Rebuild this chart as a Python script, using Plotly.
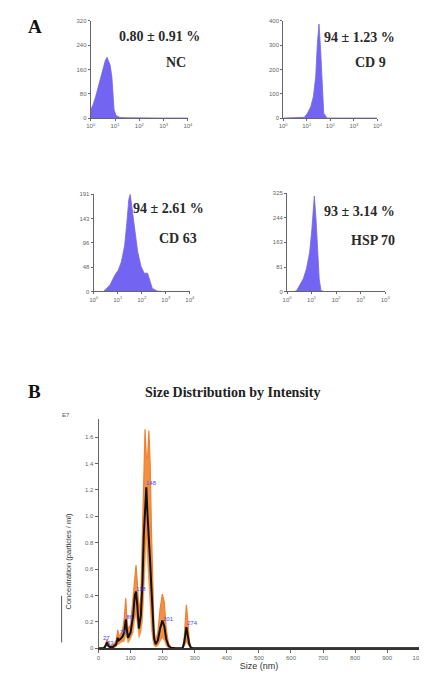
import plotly.graph_objects as go

W, H = 427, 679

# ---------------- Data: flow cytometry histograms (x in decades, y counts)
nc_x = [0.0, 0.1, 0.2, 0.3, 0.4, 0.5, 0.6, 0.67, 0.74, 0.8, 0.87, 0.92, 0.96, 1.04, 1.2, 1.5, 2.0, 3.0, 4.0]
nc_y = [27, 45, 70, 100, 135, 165, 190, 200, 188, 174, 135, 70, 27, 8, 2, 1, 0, 0, 0]

cd9_x = [0.0, 0.8, 0.9, 1.03, 1.17, 1.28, 1.38, 1.45, 1.52, 1.59, 1.66, 1.72, 1.86, 2.5, 4.0]
cd9_y = [0, 0, 3, 20, 47, 88, 170, 305, 387, 278, 102, 20, 0, 0, 0]

cd63_x = [0.0, 0.4, 0.47, 0.68, 0.88, 1.02, 1.15, 1.29, 1.38, 1.46, 1.52, 1.6, 1.69, 1.83, 1.97, 2.1, 2.24, 2.31, 2.44, 2.64, 2.85, 4.0]
cd63_y = [0, 0, 3, 13, 32, 42, 58, 91, 136, 181, 191, 162, 123, 78, 49, 36, 36, 26, 6, 1, 0, 0]

hsp_x = [0.0, 0.3, 0.39, 0.52, 0.66, 0.79, 0.92, 1.01, 1.08, 1.11, 1.18, 1.25, 1.31, 1.38, 1.51, 4.0]
hsp_y = [0, 0, 3, 20, 42, 75, 130, 206, 283, 316, 239, 130, 42, 3, 0, 0]

decade_ticks = [0, 1, 2, 3, 4]
decade_labels = ["10<sup>0</sup>", "10<sup>1</sup>", "10<sup>2</sup>", "10<sup>3</sup>", "10<sup>4</sup>"]

nc_yticks = [0, 80, 160, 240, 320]
cd9_yticks = [0, 100, 200, 300, 400]
cd63_yticks = [0, 48, 96, 143, 191]
hsp_yticks = [0, 81, 163, 244, 325]

pct_labels = ["0.80 ± 0.91 %", "94 ± 1.23 %", "94 ± 2.61 %", "93 ± 3.14 %"]
marker_labels = ["NC", "CD 9", "CD 63", "HSP 70"]

# ---------------- Data: NTA size distribution (nm, E7 particles/ml)
size_nm = [0, 15, 20, 24, 27, 30, 35, 45, 55, 60, 63, 68, 75, 80, 85, 88, 92, 100, 108, 113, 117, 121, 126,
           132, 137, 141, 145, 149, 153, 157, 161, 165, 169, 173, 178, 185, 192, 199, 205, 211, 218, 225,
           240, 262, 267, 271, 274, 278, 283, 288, 295, 1000]
conc_mean = [0, 0, 0.01, 0.04, 0.045, 0.02, 0.01, 0.01, 0.03, 0.08, 0.06, 0.07, 0.09, 0.12, 0.22, 0.15, 0.08,
             0.12, 0.25, 0.40, 0.43, 0.32, 0.15, 0.25, 0.50, 0.85, 1.10, 1.22, 1.0, 0.85, 0.65, 0.45, 0.22,
             0.08, 0.03, 0.06, 0.15, 0.21, 0.17, 0.07, 0.02, 0.005, 0, 0, 0.04, 0.12, 0.16, 0.10, 0.03, 0.005, 0, 0]
conc_upper = [0, 0, 0.02, 0.06, 0.07, 0.04, 0.02, 0.02, 0.06, 0.14, 0.10, 0.10, 0.14, 0.22, 0.38, 0.25, 0.14,
              0.18, 0.40, 0.58, 0.63, 0.50, 0.28, 0.40, 0.90, 1.40, 1.66, 1.45, 1.45, 1.65, 1.40, 0.90, 0.45,
              0.15, 0.06, 0.12, 0.30, 0.41, 0.35, 0.15, 0.04, 0.01, 0, 0, 0.08, 0.25, 0.33, 0.22, 0.06, 0.01, 0, 0]
conc_lower = [0, 0, 0, 0.02, 0.02, 0.01, 0, 0, 0.01, 0.03, 0.03, 0.04, 0.05, 0.05, 0.10, 0.08, 0.04, 0.07,
              0.12, 0.22, 0.25, 0.18, 0.08, 0.12, 0.20, 0.40, 0.60, 0.85, 0.65, 0.45, 0.30, 0.15, 0.06, 0.02,
              0.01, 0.02, 0.05, 0.08, 0.06, 0.02, 0, 0, 0, 0, 0.01, 0.03, 0.05, 0.03, 0.01, 0, 0, 0]

peak_sizes = [27, 33, 76, 86, 118, 148, 201, 274]
peak_label_x = [24, 36, 78, 97, 132, 166, 217, 292]
peak_label_y = [0.08, 0.04, 0.12, 0.24, 0.45, 1.25, 0.22, 0.19]

size_ticks = [0, 100, 200, 300, 400, 500, 600, 700, 800, 900, 1000]
conc_ticks = [0, 0.2, 0.4, 0.6, 0.8, 1.0, 1.2, 1.4, 1.6]
conc_ticklabels = ["0", "0.2", "0.4", "0.6", "0.8", "1.0", "1.2", "1.4", "1.6"]


def xd(a, b):
    return [a / W, b / W]


def yd(top, bottom):
    return [1 - bottom / H, 1 - top / H]


def px(x):
    return x / W


def py(y):
    return 1 - y / H


HIST_COLOR = "#7464f2"
AX_COLOR = "#666666"
SERIF = "Liberation Serif, Times New Roman, serif"
SANS = "Liberation Sans, Arial, sans-serif"

fig = go.Figure()

hists = [(nc_x, nc_y), (cd9_x, cd9_y), (cd63_x, cd63_y), (hsp_x, hsp_y)]
for i, (hx, hy) in enumerate(hists, start=1):
    fig.add_trace(go.Scatter(
        x=hx, y=hy, mode="lines", fill="tozeroy",
        line=dict(color=HIST_COLOR, width=0.8), fillcolor=HIST_COLOR,
        xaxis="x" if i == 1 else f"x{i}", yaxis="y" if i == 1 else f"y{i}",
        showlegend=False, hoverinfo="skip"))

# NTA band and mean
fig.add_trace(go.Scatter(x=size_nm, y=conc_lower, mode="lines", line=dict(color="#f08a30", width=0.5),
                         xaxis="x5", yaxis="y5", showlegend=False, hoverinfo="skip"))
fig.add_trace(go.Scatter(x=size_nm, y=conc_upper, mode="lines", fill="tonexty",
                         line=dict(color="#f08030", width=1.2), fillcolor="#f39040",
                         xaxis="x5", yaxis="y5", showlegend=False, hoverinfo="skip"))
fig.add_trace(go.Scatter(x=size_nm, y=conc_mean, mode="lines", line=dict(color="#111111", width=2),
                         xaxis="x5", yaxis="y5", showlegend=False, hoverinfo="skip"))


def axis_style(size):
    return dict(showgrid=False, zeroline=False, showline=True, linecolor=AX_COLOR, linewidth=1,
                ticks="outside", ticklen=2, tickcolor=AX_COLOR, tickwidth=1,
                tickfont=dict(size=size, color="#666666", family=SANS))


panels = [
    ((80, 180), (10, 108), nc_yticks),
    ((278, 375), (10, 108), cd9_yticks),
    ((83, 182), (185, 283), cd63_yticks),
    ((282, 383), (184, 283), hsp_yticks),
]
layout_axes = {}
for i, ((xa, xb), (yt, yb), yt_vals) in enumerate(panels, start=1):
    xn = "xaxis" if i == 1 else f"xaxis{i}"
    yn = "yaxis" if i == 1 else f"yaxis{i}"
    xr = "x" if i == 1 else f"x{i}"
    yr = "y" if i == 1 else f"y{i}"
    layout_axes[xn] = dict(axis_style(6), domain=xd(xa, xb), anchor=yr, range=[0, 4],
                           tickvals=decade_ticks, ticktext=decade_labels)
    layout_axes[yn] = dict(axis_style(6), domain=yd(yt, yb), anchor=xr, range=[0, yt_vals[-1]],
                           tickvals=yt_vals, ticktext=[str(v) for v in yt_vals])

layout_axes["xaxis5"] = dict(axis_style(6), domain=xd(88, 418), anchor="y5", range=[0, 1000],
                             tickvals=size_ticks, ticklen=3, linecolor="#333333", linewidth=1.5,
                             title=dict(text="Size (nm)", font=dict(size=9, color="#333333", family=SANS),
                                        standoff=2))
layout_axes["yaxis5"] = dict(axis_style(6), domain=yd(412, 643), anchor="x5", range=[0, 1.735],
                             tickvals=conc_ticks, ticktext=conc_ticklabels, ticklen=3)

annotations = []
# panel letters
annotations.append(dict(x=px(13), y=py(16), xref="paper", yref="paper", text="<b>A</b>", showarrow=False,
                        xanchor="left", yanchor="middle", font=dict(size=19, family=SERIF, color="#111111")))
annotations.append(dict(x=px(13), y=py(384), xref="paper", yref="paper", text="<b>B</b>", showarrow=False,
                        xanchor="left", yanchor="middle", font=dict(size=19, family=SERIF, color="#111111")))

pct_pos = [(151, 26), (357, 27), (160, 199), (357, 202)]
mk_pos = [(168, 52), (368, 52), (170, 230), (370, 232)]
for t, (x0, y0) in zip(pct_labels, pct_pos):
    annotations.append(dict(x=px(x0), y=py(y0), xref="paper", yref="paper", text=f"<b>{t}</b>",
                            showarrow=False, xanchor="center", yanchor="middle",
                            font=dict(size=14, family=SERIF, color="#2a2a2a")))
for t, (x0, y0) in zip(marker_labels, mk_pos):
    annotations.append(dict(x=px(x0), y=py(y0), xref="paper", yref="paper", text=f"<b>{t}</b>",
                            showarrow=False, xanchor="center", yanchor="middle",
                            font=dict(size=14, family=SERIF, color="#2a2a2a")))

annotations.append(dict(x=px(226), y=py(385), xref="paper", yref="paper",
                        text="<b>Size Distribution by Intensity</b>", showarrow=False,
                        xanchor="center", yanchor="middle", font=dict(size=14, family=SERIF, color="#222222")))
annotations.append(dict(x=px(55), y=py(408), xref="paper", yref="paper", text="E7", showarrow=False,
                        xanchor="center", yanchor="middle", font=dict(size=6, family=SANS, color="#555555")))
annotations.append(dict(x=px(57), y=py(555), xref="paper", yref="paper",
                        text="Concentration (particles / ml)", showarrow=False, textangle=-90,
                        xanchor="center", yanchor="middle", font=dict(size=7.5, family=SANS, color="#333333")))
for s, lx, ly in zip(peak_sizes, peak_label_x, peak_label_y):
    annotations.append(dict(x=lx, y=ly, xref="x5", yref="y5", text=str(s), showarrow=False,
                            xanchor="center", yanchor="middle", font=dict(size=6, family=SANS, color="#4a4aff")))

shapes = [dict(type="line", xref="paper", yref="paper", x0=px(50), x1=px(50), y0=py(590), y1=py(637),
               line=dict(color="#555555", width=1))]

fig.update_layout(width=W, height=H, margin=dict(l=0, r=0, t=0, b=0),
                  paper_bgcolor="white", plot_bgcolor="white",
                  annotations=annotations, shapes=shapes, **layout_axes)

fig.write_html("out.html")
